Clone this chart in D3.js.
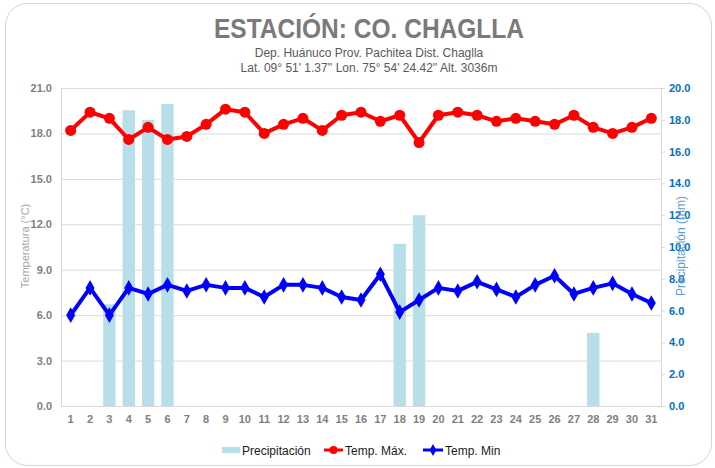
<!DOCTYPE html>
<html>
<head>
<meta charset="utf-8">
<script src="https://cdn.jsdelivr.net/npm/d3@7"></script>
<style>
  html, body { margin: 0; padding: 0; background: #ffffff; }
  svg { display: block; font-family: "Liberation Sans", Arial, sans-serif; }
</style>
</head>
<body>
<svg id="chart" width="715" height="468"></svg>
<script>
const days = d3.range(1, 32).map(String);
const precipitacion = [0,0,6.4,18.6,18.0,19.0,0,0,0,0,0,0,0,0,0,0,0,10.2,12.0,0,0,0,0,0,0,0,0,4.6,0,0,0];
const tempMax = [18.2,19.4,19.0,17.6,18.4,17.6,17.8,18.6,19.6,19.4,18.0,18.6,19.0,18.2,19.2,19.4,18.8,19.2,17.4,19.2,19.4,19.2,18.8,19.0,18.8,18.6,19.2,18.4,18.0,18.4,19.0];
const tempMin = [6.0,7.8,6.0,7.8,7.4,8.0,7.6,8.0,7.8,7.8,7.2,8.0,8.0,7.8,7.2,7.0,8.7,6.2,7.0,7.8,7.6,8.2,7.7,7.2,8.0,8.6,7.4,7.8,8.1,7.4,6.8];
const leftTicks = [0, 3, 6, 9, 12, 15, 18, 21];
const rightTicks = [0, 2, 4, 6, 8, 10, 12, 14, 16, 18, 20];
const titleText = "ESTACIÓN: CO. CHAGLLA";
const subtitle1 = "Dep. Huánuco Prov. Pachitea Dist. Chaglla";
const subtitle2 = "Lat. 09° 51' 1.37'' Lon. 75° 54' 24.42'' Alt. 3036m";
const leftTitle = "Temperatura (°C)";
const rightTitle = "Precipitación (mm)";
const legendLabels = ["Precipitación", "Temp. Máx.", "Temp. Min"];

const svg = d3.select("#chart");
const L = 61, R = 661, T = 88, B = 406;

// frame
svg.append("rect").attr("x", 5.5).attr("y", 3.5).attr("width", 706).attr("height", 462)
  .attr("rx", 22).attr("fill", "#fff").attr("stroke", "#c9d6e8").attr("stroke-width", 1);

const x = d3.scaleBand().domain(days).range([L, R]).paddingInner(0.36).paddingOuter(0.18);
const yL = d3.scaleLinear().domain([0, 21]).range([B, T]);
const yR = d3.scaleLinear().domain([0, 20]).range([B, T]);

// gridlines
svg.append("g").selectAll("line").data(leftTicks.slice(1)).join("line")
  .attr("x1", L).attr("x2", R).attr("y1", d => yL(d) + 0.5).attr("y2", d => yL(d) + 0.5)
  .attr("stroke", "#dadada").attr("stroke-width", 1);

// left axis
const gL = svg.append("g").attr("transform", `translate(${L},0)`)
  .call(d3.axisLeft(yL).tickValues(leftTicks).tickFormat(d3.format(".1f")).tickSize(0).tickPadding(9));
gL.select(".domain").attr("stroke", "#d9d9d9");
gL.selectAll("text").attr("fill", "#7f7f7f").attr("font-size", 11).attr("font-weight", "bold")
  .attr("font-family", "Liberation Sans, Arial, sans-serif");

// right axis
const gR = svg.append("g").attr("transform", `translate(${R},0)`)
  .call(d3.axisRight(yR).tickValues(rightTicks).tickFormat(d3.format(".1f")).tickSize(4).tickPadding(4));
gR.select(".domain").attr("stroke", "#d9d9d9");
gR.selectAll("line").attr("stroke", "#d9d9d9");
gR.selectAll("text").attr("fill", "#0070c0").attr("font-size", 11).attr("font-weight", "bold")
  .attr("font-family", "Liberation Sans, Arial, sans-serif");

// bottom axis
const gB = svg.append("g").attr("transform", `translate(0,${B})`)
  .call(d3.axisBottom(x).tickSize(0).tickPadding(9));
gB.select(".domain").attr("stroke", "#d9d9d9");
gB.selectAll("text").attr("fill", "#7f7f7f").attr("font-size", 11).attr("font-weight", "bold")
  .attr("font-family", "Liberation Sans, Arial, sans-serif");

// bars
svg.append("g").selectAll("rect").data(precipitacion.map((v, i) => ({d: days[i], v}))).join("rect")
  .attr("x", d => x(d.d)).attr("width", x.bandwidth())
  .attr("y", d => yR(d.v)).attr("height", d => B - yR(d.v))
  .attr("fill", "#b8dee9");

const cx = d => x(d) + x.bandwidth() / 2;

// max line
const lineMax = d3.line().x((v, i) => cx(days[i])).y(v => yL(v));
svg.append("path").datum(tempMax).attr("d", lineMax).attr("fill", "none")
  .attr("stroke", "#ff0000").attr("stroke-width", 4).attr("stroke-linejoin", "round");
svg.append("g").selectAll("circle").data(tempMax).join("circle")
  .attr("cx", (v, i) => cx(days[i])).attr("cy", v => yL(v)).attr("r", 5.5).attr("fill", "#ff0000");

// min line
svg.append("path").datum(tempMin).attr("d", lineMax).attr("fill", "none")
  .attr("stroke", "#0000ff").attr("stroke-width", 4).attr("stroke-linejoin", "round");
const diamond = d3.symbol().type(d3.symbolDiamond).size(70);
svg.append("g").selectAll("path").data(tempMin).join("path")
  .attr("transform", (v, i) => `translate(${cx(days[i])},${yL(v)})`)
  .attr("d", diamond).attr("fill", "#0000ff");

// titles
svg.append("text").attr("x", 369).attr("y", 38).attr("text-anchor", "middle")
  .attr("font-size", 28).attr("font-weight", "bold").attr("fill", "#7a7a7a")
  .attr("textLength", 310).attr("lengthAdjust", "spacingAndGlyphs").text(titleText);
svg.append("text").attr("x", 369).attr("y", 57).attr("text-anchor", "middle")
  .attr("font-size", 12).attr("fill", "#595959").text(subtitle1);
svg.append("text").attr("x", 369).attr("y", 72).attr("text-anchor", "middle")
  .attr("font-size", 12).attr("fill", "#595959").text(subtitle2);

svg.append("text").attr("transform", "translate(29,246) rotate(-90)").attr("text-anchor", "middle")
  .attr("font-size", 11).attr("fill", "#a6a6a6").text(leftTitle);
svg.append("text").attr("transform", "translate(685,246) rotate(-90)").attr("text-anchor", "middle")
  .attr("font-size", 12).attr("fill", "#5b9bd5").text(rightTitle);

// legend
const lg = svg.append("g");
lg.append("rect").attr("x", 222).attr("y", 447).attr("width", 18).attr("height", 6).attr("fill", "#b8dee9");
lg.append("text").attr("x", 242).attr("y", 454.5).attr("font-size", 12).attr("fill", "#1a1a1a").text(legendLabels[0]);
lg.append("line").attr("x1", 324).attr("x2", 343).attr("y1", 450).attr("y2", 450).attr("stroke", "#ff0000").attr("stroke-width", 3);
lg.append("circle").attr("cx", 333.5).attr("cy", 450).attr("r", 4).attr("fill", "#ff0000");
lg.append("text").attr("x", 345).attr("y", 454.5).attr("font-size", 12).attr("fill", "#1a1a1a").text(legendLabels[1]);
lg.append("line").attr("x1", 423).attr("x2", 443).attr("y1", 450).attr("y2", 450).attr("stroke", "#0000ff").attr("stroke-width", 3);
lg.append("path").attr("transform", "translate(433,450)").attr("d", d3.symbol().type(d3.symbolDiamond).size(40)).attr("fill", "#0000ff");
lg.append("text").attr("x", 445).attr("y", 454.5).attr("font-size", 12).attr("fill", "#1a1a1a").text(legendLabels[2]);
</script>
</body>
</html>
